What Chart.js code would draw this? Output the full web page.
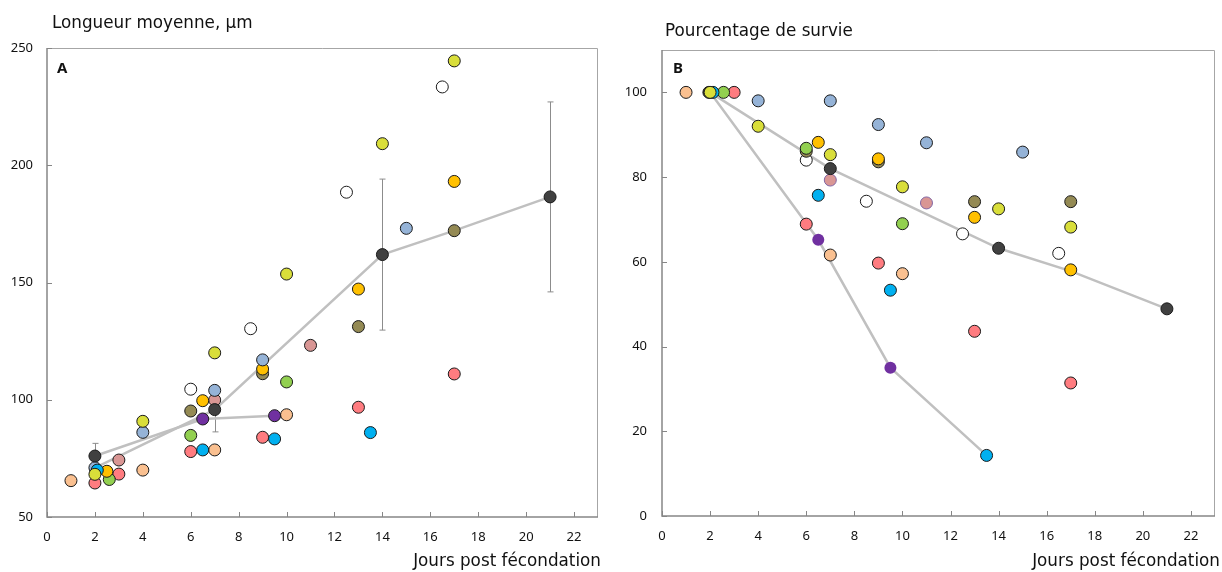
<!DOCTYPE html>
<html lang="fr">
<head>
<meta charset="utf-8">
<title>Longueur moyenne et survie</title>
<script src="https://cdn.jsdelivr.net/npm/chart.js@4.4.0/dist/chart.umd.min.js"></script>
<style>
  body { margin: 0; background: #fff; font-family: "Noto Sans", sans-serif; color: #111; }
  #page { position: relative; width: 1222px; height: 572px; overflow: hidden; }
  .boite { position: absolute; top: 0; height: 572px; }
  .txt { position: absolute; white-space: nowrap; font-family: "DejaVu Sans", sans-serif; font-size: 16.8px; line-height: 17px; }
  .lettre { position: absolute; font-weight: bold; font-size: 15px; line-height: 15px; }
</style>
</head>
<body>
<div id="page">
  <div class="boite" style="left:0;width:610px"><canvas id="grapheA" width="610" height="572"></canvas></div>
  <div class="boite" style="left:610px;width:612px"><canvas id="grapheB" width="612" height="572"></canvas></div>

  <div class="txt" style="left:52px;top:14px">Longueur moyenne, µm</div>
  <div class="txt" style="left:665px;top:22px">Pourcentage de survie</div>
  <div class="txt" style="right:621px;top:552px">Jours post fécondation</div>
  <div class="txt" style="right:2px;top:552px">Jours post fécondation</div>
  <div class="lettre" style="left:57px;top:60px">A</div>
  <div class="lettre" style="left:673px;top:60px">B</div>
</div>

<script>
// Panneau A : longueur moyenne (µm), points [jour, valeur]
const lonPeche = [[1, 65.5], [4, 70], [7, 78.6], [10, 93.6]];
const lonBleuClair = [[2, 71], [4, 86.1], [7, 104], [9, 117], [15, 173.1]];
const lonCyan = [[2.1, 70], [6.5, 78.6], [9.5, 83.3], [13.5, 86]];
const lonOrange = [[2.5, 69.5], [6.5, 99.6], [9, 113.1], [13, 147.2], [17, 193.1]];
const lonSaumon = [[2, 64.5], [3, 68.3], [6, 77.9], [9, 84], [13, 96.8], [17, 111]];
const lonVert = [[2.6, 66], [6, 84.8], [10, 107.6]];
const lonJaune = [[2, 68.2], [4, 90.8], [7, 120], [10, 153.6], [14, 209.2], [17, 244.5]];
const lonKaki = [[6, 95.2], [9, 111.1], [13, 131.2], [17, 172.1]];
const lonRose = [[3, 74.3], [7, 99.9], [11, 123.2]];
const lonViolet = [[6.5, 91.8], [9.5, 93.2]];
const lonGris = [[2, 76], [7, 95.8], [14, 161.9], [21, 186.5]];
const lonBlanc = [[6, 104.5], [8.5, 130.3], [12.5, 188.5], [16.5, 233.4]];
// écart-type des moyennes (points gris foncés)
const lonEcart = [5.4, 9.5, 32.2, 40.5];
// courbes moyennes
const lonCourbe1 = [[2, 71], [7, 95.8], [14, 161.9], [17, 172.1], [21, 186.5]];
const lonCourbe2 = [[2, 76], [6.5, 91.8], [9.5, 93.2]];

// Panneau B : pourcentage de survie
const surPeche = [[1, 100], [7, 61.6], [10, 57.2]];
const surBleuClair = [[4, 98], [7, 98], [9, 92.4], [11, 88.1], [15, 85.9]];
const surCyan = [[2.12, 100], [6.5, 75.7], [9.5, 53.3], [13.5, 14.3]];
const surOrange = [[6.5, 88.2], [9, 84.3], [13, 70.5], [17, 58.1]];
const surSaumon = [[3, 100], [6, 68.9], [9, 59.7], [13, 43.6], [17, 31.4]];
const surVert = [[2.56, 100], [6, 86.8], [10, 69]];
const surJaune = [[2, 100], [4, 92], [7, 85.3], [10, 77.7], [14, 72.5], [17, 68.2]];
const surKaki = [[6, 86.1], [9, 83.6], [13, 74.2], [17, 74.2]];
const surRose = [[7, 79.3], [11, 73.9]];
const surViolet = [[6.5, 65.2], [9.5, 35]];
const surGris = [[1.95, 100], [7, 82], [14, 63.2], [21, 48.9]];
const surBlanc = [[6, 84], [8.5, 74.3], [12.5, 66.6], [16.5, 62]];
const surCourbe1 = [[2, 100], [7, 82], [14, 63.2], [17, 57.8], [21, 48.9]];
const surCourbe2 = [[2, 100], [6.5, 65.2], [9.5, 35], [13.5, 14.3]];

const C = {
  peche: "#fac090", bleuClair: "#95b3d7", cyan: "#00b0f0", orange: "#ffc000",
  saumon: "#ff7c80", vert: "#92d050", jaune: "#d9de3a", kaki: "#948a54",
  rose: "#d99694", violet: "#7030a0", gris: "#404040", blanc: "#ffffff"
};

document.addEventListener("DOMContentLoaded", function () {
  const police = { family: "Noto Sans", size: 13 };

  function nuage(points, couleur, bord, epaisseur) {
    return {
      data: points.map(p => ({ x: p[0], y: p[1] })),
      backgroundColor: couleur,
      borderColor: bord || "#1a1a1a",
      borderWidth: epaisseur === undefined ? 1 : epaisseur,
      pointRadius: 6,
      showLine: false,
      order: 1
    };
  }

  function trait(points) {
    return {
      data: points.map(p => ({ x: p[0], y: p[1] })),
      showLine: true,
      borderColor: "#c0c0c0",
      borderWidth: 2.5,
      pointRadius: 0,
      order: 5
    };
  }

  // cadre, graduations intérieures et barres d'erreur
  const cadre = {
    id: "cadre",
    beforeDatasetsDraw(chart, args, opts) {
      const { ctx, chartArea: a, scales } = chart;
      ctx.save();
      ctx.strokeStyle = "#a6a6a6";
      ctx.lineWidth = 1;
      ctx.beginPath();
      ctx.moveTo(a.left, a.top + 0.5);
      ctx.lineTo(a.right - 0.5, a.top + 0.5);
      ctx.lineTo(a.right - 0.5, a.bottom);
      ctx.stroke();
      ctx.strokeStyle = "#868686";
      ctx.lineWidth = 1.5;
      ctx.beginPath();
      ctx.moveTo(a.left, a.top);
      ctx.lineTo(a.left, a.bottom);
      ctx.lineTo(a.right, a.bottom);
      ctx.stroke();
      ctx.lineWidth = 1;
      ctx.beginPath();
      scales.x.ticks.forEach(t => {
        const px = Math.round(scales.x.getPixelForValue(t.value)) + 0.5;
        ctx.moveTo(px, a.bottom);
        ctx.lineTo(px, a.bottom - 5);
      });
      scales.y.ticks.forEach(t => {
        const py = Math.round(scales.y.getPixelForValue(t.value)) + 0.5;
        ctx.moveTo(a.left, py);
        ctx.lineTo(a.left + 5, py);
      });
      ctx.stroke();

      if (opts.points) {
        ctx.strokeStyle = "#8c8c8c";
        ctx.beginPath();
        opts.points.forEach((p, i) => {
          const px = Math.round(scales.x.getPixelForValue(p[0])) + 0.5;
          const hi = scales.y.getPixelForValue(p[1] + opts.ecart[i]);
          const lo = scales.y.getPixelForValue(p[1] - opts.ecart[i]);
          ctx.moveTo(px, hi);
          ctx.lineTo(px, lo);
          ctx.moveTo(px - 3, hi);
          ctx.lineTo(px + 3, hi);
          ctx.moveTo(px - 3, lo);
          ctx.lineTo(px + 3, lo);
        });
        ctx.stroke();
      }
      ctx.restore();
    }
  };

  function options(yMin, yMax, yPas, yLarg, xHaut, marge, yPad, barres) {
    return {
      responsive: false,
      animation: false,
      events: [],
      layout: { padding: marge },
      plugins: { legend: { display: false }, tooltip: { enabled: false }, cadre: barres },
      scales: {
        x: {
          type: "linear", min: 0, max: 23,
          grid: { display: false, drawTicks: false },
          border: { display: false },
          ticks: { stepSize: 2, includeBounds: false, padding: 12, maxRotation: 0, font: police, color: "#111" },
          afterFit: s => { s.height = xHaut; }
        },
        y: {
          min: yMin, max: yMax,
          grid: { display: false, drawTicks: false },
          border: { display: false },
          ticks: { stepSize: yPas, includeBounds: false, padding: yPad, font: police, color: "#111" },
          afterFit: s => { s.width = yLarg; }
        }
      }
    };
  }

  new Chart(document.getElementById("grapheA"), {
    type: "scatter",
    data: {
      datasets: [
        nuage(lonGris, C.gris),
        nuage(lonViolet, C.violet),
        nuage(lonJaune, C.jaune),
        nuage(lonCyan, C.cyan),
        nuage(lonBleuClair, C.bleuClair),
        nuage(lonOrange, C.orange),
        nuage(lonVert, C.vert),
        nuage(lonSaumon, C.saumon),
        nuage(lonRose, C.rose),
        nuage(lonKaki, C.kaki),
        nuage(lonPeche, C.peche),
        nuage(lonBlanc, C.blanc),
        trait(lonCourbe1),
        trait(lonCourbe2)
      ]
    },
    options: options(50, 250, 50, 47, 55, { top: 48, right: 12, left: 0, bottom: 0 }, 14,
      { points: lonGris, ecart: lonEcart }),
    plugins: [cadre]
  });

  new Chart(document.getElementById("grapheB"), {
    type: "scatter",
    data: {
      datasets: [
        nuage(surJaune, C.jaune),
        nuage(surGris, C.gris),
        nuage(surViolet, C.violet, C.violet, 0),
        nuage(surCyan, C.cyan),
        nuage(surVert, C.vert),
        nuage(surSaumon, C.saumon),
        nuage(surBleuClair, C.bleuClair),
        nuage(surOrange, C.orange),
        nuage(surKaki, C.kaki),
        nuage(surRose, C.rose, "#8064a2"),
        nuage(surPeche, C.peche),
        nuage(surBlanc, C.blanc),
        trait(surCourbe1),
        trait(surCourbe2)
      ]
    },
    options: options(0, 110, 20, 52, 56, { top: 50, right: 4, left: 0, bottom: 0 }, 15, {}),
    plugins: [cadre]
  });
});
</script>
</body>
</html>
